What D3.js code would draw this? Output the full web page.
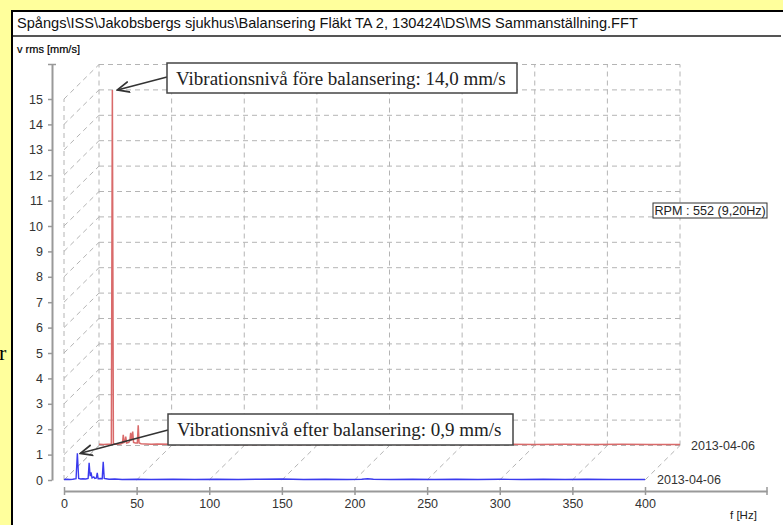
<!DOCTYPE html>
<html>
<head>
<meta charset="utf-8">
<script src="https://cdn.jsdelivr.net/npm/d3@7"></script>
<style>
  body { margin: 0; background: #ffff9c; }
  svg { display: block; font-family: Arial, "Liberation Sans", sans-serif; }
</style>
</head>
<body>
<svg id="chart" width="783" height="525"></svg>
<script>
var title = "Spångs\\ISS\\Jakobsbergs sjukhus\\Balansering Fläkt TA 2, 130424\\DS\\MS Sammanställning.FFT";
var yLabel = "v rms [mm/s]";
var xLabel = "f [Hz]";
var yTicks = [0, 1, 2, 3, 4, 5, 6, 7, 8, 9, 10, 11, 12, 13, 14, 15];
var xTicks = [0, 50, 100, 150, 200, 250, 300, 350, 400];
var dates = ["2013-04-06", "2013-04-06"];   // front, back
var rpmText = "RPM : 552 (9,20Hz)";
var noteBefore = "Vibrationsnivå före balansering: 14,0 mm/s";
var noteAfter = "Vibrationsnivå efter balansering: 0,9 mm/s";

// front spectrum (after balancing), Hz / mm/s
var afterFreq = [0, 2, 4, 6, 8.3, 9.2, 10.1, 11.5, 13, 15, 16.6, 17.3, 18, 18.6, 19.3, 20.5, 21.2, 22.3, 22.9, 23.5, 25, 26.3, 27, 27.7, 29, 31, 35, 40, 50, 60, 75, 90, 105, 120, 135, 150, 165, 180, 195, 205, 209, 213, 225, 240, 255, 270, 285, 300, 315, 330, 345, 360, 375, 390, 400];
var afterAmp  = [0.02, 0.03, 0.02, 0.03, 0.05, 1.05, 0.06, 0.04, 0.05, 0.04, 0.06, 0.68, 0.15, 0.3, 0.08, 0.12, 0.06, 0.08, 0.28, 0.05, 0.06, 0.05, 0.72, 0.06, 0.05, 0.03, 0.04, 0.02, 0.03, 0.02, 0.03, 0.02, 0.03, 0.02, 0.03, 0.04, 0.02, 0.03, 0.02, 0.03, 0.05, 0.03, 0.02, 0.03, 0.02, 0.03, 0.02, 0.03, 0.02, 0.03, 0.02, 0.03, 0.02, 0.02, 0.02];

// back spectrum (before balancing)
var beforeFreq = [0, 3, 6, 8.5, 9.2, 9.9, 11, 13, 15, 16.2, 16.7, 17.3, 18, 18.4, 19, 20.5, 21.3, 21.8, 22.4, 23.2, 23.8, 25, 26.4, 27, 27.6, 29, 32, 36, 40, 50, 65, 80, 100, 120, 140, 160, 180, 200, 220, 240, 260, 280, 300, 320, 340, 360, 380, 400];
var beforeAmp  = [0.05, 0.04, 0.05, 0.06, 14.0, 0.08, 0.05, 0.05, 0.06, 0.1, 0.42, 0.12, 0.15, 0.35, 0.1, 0.12, 0.2, 0.5, 0.2, 0.55, 0.12, 0.1, 0.1, 0.8, 0.1, 0.07, 0.06, 0.05, 0.06, 0.05, 0.04, 0.05, 0.04, 0.05, 0.04, 0.05, 0.04, 0.05, 0.04, 0.05, 0.04, 0.05, 0.04, 0.05, 0.04, 0.05, 0.04, 0.04];

var svg = d3.select("#chart");

/* panel */
svg.append("rect").attr("x", 12).attr("y", 11).attr("width", 790).attr("height", 530)
  .attr("fill", "#fff").attr("stroke", "#000").attr("stroke-width", 2);
svg.append("text").attr("x", -1).attr("y", 360).attr("font-family", "'Liberation Serif', serif")
  .attr("font-size", 22).attr("fill", "#000").text("r");

svg.append("text").attr("x", 17).attr("y", 28).attr("font-size", 14.6).attr("fill", "#111").text(title);
svg.append("line").attr("x1", 13).attr("x2", 781).attr("y1", 36).attr("y2", 36)
  .attr("stroke", "#555").attr("stroke-width", 2);
svg.append("text").attr("x", 17).attr("y", 53).attr("font-size", 11).attr("fill", "#000")
  .attr("stroke", "#000").attr("stroke-width", 0.2).text(yLabel);

/* scales */
var x = d3.scaleLinear().domain([0, 400]).range([64, 645]);
var y = d3.scaleLinear().domain([0, 15]).range([480, 99]);
var depth = { dx: 35, dy: -34.5 };

/* 3d grid */
var grid = svg.append("g").attr("stroke", "#b4b4b4").attr("stroke-width", 1)
  .attr("stroke-dasharray", "5,4").attr("fill", "none");
grid.selectAll(".bh").data(yTicks).enter().append("line")
  .attr("x1", x(0) + depth.dx).attr("x2", x(400) + depth.dx)
  .attr("y1", d => y(d) + depth.dy).attr("y2", d => y(d) + depth.dy);
grid.selectAll(".bv").data(xTicks).enter().append("line")
  .attr("x1", d => x(d) + depth.dx).attr("x2", d => x(d) + depth.dx)
  .attr("y1", y(0) + depth.dy).attr("y2", y(15) + depth.dy);
grid.selectAll(".wall").data(yTicks).enter().append("line")
  .attr("x1", x(0)).attr("x2", x(0) + depth.dx)
  .attr("y1", d => y(d)).attr("y2", d => y(d) + depth.dy);
grid.selectAll(".floor").data(xTicks).enter().append("line")
  .attr("x1", d => x(d)).attr("x2", d => x(d) + depth.dx)
  .attr("y1", y(0)).attr("y2", y(0) + depth.dy);
grid.append("line").attr("x1", x(0)).attr("x2", x(0)).attr("y1", y(0)).attr("y2", y(15));

/* spectra */
var before = beforeFreq.map((f, i) => ({ f: f, a: beforeAmp[i] }));
var after = afterFreq.map((f, i) => ({ f: f, a: afterAmp[i] }));

var backLine = d3.line().x(d => x(d.f) + depth.dx).y(d => y(d.a) + depth.dy);
var frontLine = d3.line().x(d => x(d.f)).y(d => y(d.a));

svg.append("path").attr("d", backLine(before)).attr("fill", "none")
  .attr("stroke", "#d96a6a").attr("stroke-width", 1.5);
svg.append("path").attr("d", frontLine(after)).attr("fill", "none")
  .attr("stroke", "#3a3aee").attr("stroke-width", 1.4);

svg.append("text").attr("x", x(400) + depth.dx + 11).attr("y", y(0) + depth.dy + 4)
  .attr("font-size", 12.5).attr("fill", "#333").text(dates[1]);
svg.append("text").attr("x", x(400) + 12).attr("y", y(0) + 4)
  .attr("font-size", 12.5).attr("fill", "#333").text(dates[0]);

/* axes */
var yAxisScale = y.copy().domain([0, y.invert(y(15) + depth.dy)]).range([y(0), y(15) + depth.dy]);
var yAxis = svg.append("g").attr("transform", "translate(52,0)")
  .call(d3.axisLeft(yAxisScale).tickValues(yTicks).tickSize(4).tickSizeOuter(0).tickPadding(5));
yAxis.select(".domain").attr("stroke", "#999").attr("stroke-width", 2);
yAxis.selectAll(".tick line").attr("stroke", "#999").attr("stroke-width", 1.5);
yAxis.selectAll(".tick text").attr("font-size", 12.5).attr("fill", "#333")
  .attr("font-family", "Arial, 'Liberation Sans', sans-serif");
yAxis.append("line").attr("x1", -4).attr("x2", 4).attr("y1", y(15) + depth.dy).attr("y2", y(15) + depth.dy)
  .attr("stroke", "#999").attr("stroke-width", 1.5);

var xAxisScale = x.copy().domain([0, x.invert(767)]).range([x(0), 767]);
var xAxis = svg.append("g").attr("transform", "translate(0,491)")
  .call(d3.axisBottom(xAxisScale).tickValues(xTicks).tickSize(4).tickSizeOuter(0).tickPadding(4));
xAxis.select(".domain").attr("stroke", "#999").attr("stroke-width", 2);
xAxis.selectAll(".tick line").attr("stroke", "#999").attr("stroke-width", 1.5).attr("y1", -4);
xAxis.selectAll(".tick text").attr("font-size", 12.5).attr("fill", "#333")
  .attr("font-family", "Arial, 'Liberation Sans', sans-serif");
xAxis.append("line").attr("x1", 767).attr("x2", 767).attr("y1", -4).attr("y2", 4)
  .attr("stroke", "#999").attr("stroke-width", 1.5);
svg.append("text").attr("x", 730).attr("y", 519).attr("font-size", 11.5).attr("fill", "#222").text(xLabel);

/* rpm label */
var rpm = svg.append("g").attr("transform", "translate(653,203)");
rpm.append("rect").attr("width", 114).attr("height", 15).attr("fill", "#fff")
  .attr("stroke", "#333").attr("stroke-width", 1);
rpm.append("text").attr("x", 1.5).attr("y", 12).attr("font-size", 12.6).attr("fill", "#222").text(rpmText);

/* annotations */
svg.append("defs").append("marker").attr("id", "arrow")
  .attr("viewBox", "0 0 10 10").attr("refX", 9).attr("refY", 5)
  .attr("markerWidth", 9).attr("markerHeight", 9).attr("orient", "auto")
  .append("path").attr("d", "M0,1 L9,5 L0,9").attr("fill", "none")
  .attr("stroke", "#333").attr("stroke-width", 1.3);

var notes = [
  { text: noteBefore, box: [167, 63, 350, 30], tip: [x(9.2) + depth.dx + 5, y(14) + depth.dy], from: [167, 77] },
  { text: noteAfter, box: [168, 414, 345, 31], tip: [x(9.2) + 3, y(1.05)], from: [168, 430] }
];
notes.forEach(function(n) {
  svg.append("line").attr("x1", n.from[0]).attr("y1", n.from[1]).attr("x2", n.tip[0]).attr("y2", n.tip[1])
    .attr("stroke", "#333").attr("stroke-width", 1.5).attr("marker-end", "url(#arrow)");
  svg.append("rect").attr("x", n.box[0]).attr("y", n.box[1]).attr("width", n.box[2]).attr("height", n.box[3])
    .attr("fill", "#fff").attr("stroke", "#444").attr("stroke-width", 1.5);
  svg.append("text").attr("x", n.box[0] + 9).attr("y", n.box[1] + 22)
    .attr("font-family", "'Liberation Serif', 'Times New Roman', serif").attr("font-size", 19)
    .attr("fill", "#222").text(n.text);
});
</script>
</body>
</html>
